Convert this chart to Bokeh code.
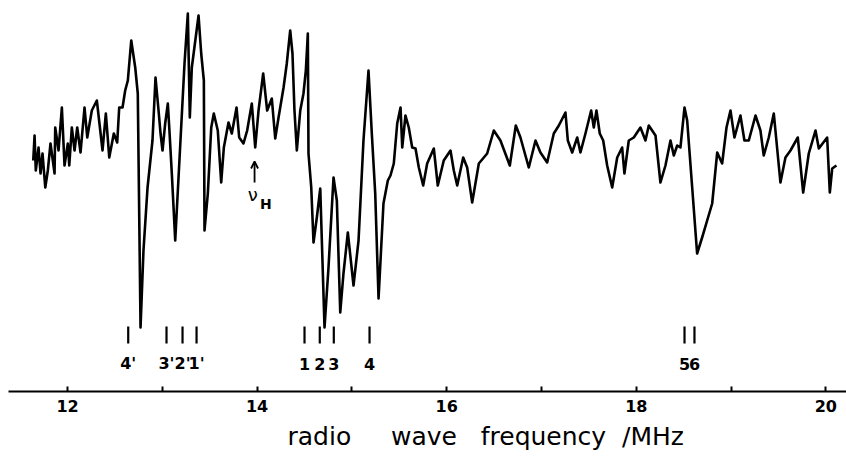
from bokeh.plotting import figure
from bokeh.models import FixedTicker, Label, Arrow, OpenHead, Range1d, ColumnDataSource, Title
from bokeh.core.properties import value
from bokeh.embed import file_html
from bokeh.resources import INLINE

# Spectrum trace (frequency in MHz, signal in arbitrary units)
freq = [11.638, 11.652, 11.665, 11.694, 11.715, 11.736, 11.765, 11.792, 11.820, 11.863,
        11.870, 11.905, 11.940, 11.968, 12.003, 12.018, 12.045, 12.074, 12.102, 12.137,
        12.179, 12.208, 12.256, 12.309, 12.369, 12.404, 12.440, 12.488, 12.524, 12.545,
        12.580, 12.608, 12.636, 12.672, 12.714, 12.741, 12.770, 12.801, 12.844, 12.896,
        12.928, 12.960, 12.981, 13.002, 13.030, 13.058, 13.073, 13.100, 13.136, 13.234,
        13.269, 13.290, 13.311, 13.382, 13.410, 13.438, 13.445, 13.480, 13.516, 13.543,
        13.585, 13.621, 13.649, 13.698, 13.733, 13.783, 13.811, 13.856, 13.895, 13.944,
        13.980, 14.015, 14.064, 14.106, 14.155, 14.191, 14.226, 14.279, 14.313, 14.349,
        14.373, 14.394, 14.419, 14.455, 14.489, 14.514, 14.535, 14.542, 14.571, 14.595,
        14.630, 14.666, 14.711, 14.753, 14.806, 14.841, 14.877, 14.911, 14.957, 15.017,
        15.070, 15.122, 15.175, 15.210, 15.246, 15.281, 15.333, 15.379, 15.407, 15.442,
        15.478, 15.513, 15.531, 15.565, 15.600, 15.636, 15.671, 15.706, 15.752, 15.794,
        15.864, 15.906, 15.969, 16.040, 16.075, 16.111, 16.174, 16.216, 16.269, 16.339,
        16.427, 16.497, 16.567, 16.666, 16.729, 16.778, 16.866, 16.937, 16.989, 17.060,
        17.130, 17.183, 17.253, 17.278, 17.324, 17.377, 17.411, 17.464, 17.524, 17.552,
        17.580, 17.615, 17.651, 17.693, 17.746, 17.799, 17.851, 17.875, 17.921, 17.974,
        18.044, 18.097, 18.132, 18.203, 18.255, 18.308, 18.361, 18.396, 18.432, 18.466,
        18.509, 18.537, 18.590, 18.642, 18.695, 18.748, 18.801, 18.854, 18.906, 18.952,
        18.994, 19.036, 19.099, 19.141, 19.187, 19.258, 19.310, 19.345, 19.398, 19.451,
        19.521, 19.574, 19.627, 19.704, 19.761, 19.820, 19.891, 19.926, 20.014, 20.042,
        20.067, 20.112]
signal = [170, 195, 160, 183, 157, 177, 143, 160, 187, 157,
          203, 180, 223, 165, 187, 165, 203, 180, 203, 178,
          223, 193, 220, 230, 180, 217, 173, 197, 188, 223,
          223, 240, 250, 290, 263, 237, 3, 80, 143, 190,
          253, 220, 197, 180, 207, 227, 203, 157, 90, 267,
          317, 213, 263, 315, 277, 250, 100, 137, 203, 217,
          200, 148, 183, 208, 197, 223, 193, 187, 200, 227,
          183, 220, 257, 220, 232, 192, 213, 243, 267, 300,
          277, 220, 180, 220, 237, 260, 297, 177, 143, 88,
          113, 142, 3, 63, 153, 130, 18, 57, 98, 45,
          90, 190, 260, 197, 137, 32, 127, 150, 155, 167,
          207, 223, 183, 215, 203, 183, 182, 163, 145, 167,
          182, 145, 170, 180, 160, 145, 173, 163, 128, 167,
          177, 200, 190, 165, 205, 193, 163, 190, 178, 168,
          197, 205, 218, 190, 178, 193, 178, 197, 220, 203,
          220, 197, 190, 165, 143, 173, 183, 157, 190, 193,
          203, 190, 205, 195, 148, 165, 190, 175, 185, 183,
          223, 210, 143, 77, 93, 110, 127, 178, 167, 203,
          220, 193, 215, 190, 190, 215, 200, 175, 193, 217,
          148, 173, 180, 193, 138, 177, 200, 182, 193, 138,
          162, 165]

# Assigned line positions (MHz) and their labels
line_freq = [12.640, 13.044, 13.213, 13.361, 14.500, 14.661, 14.809, 15.186, 18.509, 18.614]
line_labels = ["4'", "3'", "2'", "1'", "1", "2", "3", "4", "5", "6"]

# Axis ticks
tick_values = [12, 13, 14, 15, 16, 17, 18, 19, 20]
tick_labels = ["12", "", "14", "", "16", "", "18", "", "20"]

nu_h = 13.973

FONT = "DejaVu Sans"
NB = "\u00a0"
x_title = "radio" + NB * 5 + "wave" + NB * 3 + "frequency" + NB * 2 + "/MHz"

p = figure(width=846, height=463, output_backend="svg", toolbar_location=None,
           x_range=Range1d(11.377, 20.218), y_range=Range1d(-61, 330),
           min_border_left=8, min_border_right=0, min_border_top=0, min_border_bottom=72,
           y_axis_location=None)
p.outline_line_color = None
p.grid.visible = False
p.background_fill_color = "white"
p.border_fill_color = "white"

p.line(freq, signal, line_color="black", line_width=2.6, line_join="round")

# assignment markers
src = ColumnDataSource(dict(x=line_freq, y0=[-13] * len(line_freq), y1=[4] * len(line_freq),
                            ly=[-33] * len(line_freq), lab=line_labels))
p.segment(x0="x", y0="y0", x1="x", y1="y1", source=src, line_color="black", line_width=2.2)
p.text(x="x", y="ly", text="lab", source=src, text_align="center", text_baseline="middle",
       text_font=value(FONT), text_font_size="16px", text_font_style="bold", text_color="black")

# nu_H arrow and label
p.add_layout(Arrow(end=OpenHead(size=7, line_width=1.8, line_color="black"),
                   x_start=nu_h, y_start=148, x_end=nu_h, y_end=169,
                   line_color="black", line_width=1.8))
p.add_layout(Label(x=nu_h - 0.02, y=136, text="ν", text_align="center", text_baseline="middle",
                   text_font=FONT, text_font_size="18px", text_color="black"))
p.add_layout(Label(x=nu_h + 0.12, y=127, text="H", text_align="center", text_baseline="middle",
                   text_font=FONT, text_font_size="14px", text_font_style="bold", text_color="black"))

# x axis
ax = p.xaxis[0]
ax.ticker = FixedTicker(ticks=tick_values)
ax.major_label_overrides = {v: l for v, l in zip(tick_values, tick_labels)}
ax.minor_tick_line_color = None
ax.major_tick_in = 5
ax.major_tick_out = 0
ax.major_tick_line_width = 2
ax.axis_line_width = 2
ax.axis_line_color = "black"
ax.major_label_standoff = 8
ax.major_label_text_font = FONT
ax.major_label_text_font_size = "16px"
ax.major_label_text_font_style = "bold"
ax.major_label_text_color = "black"

# axis title (offset to the right as in the original)
p.add_layout(Title(text=x_title, align="left", offset=279, standoff=10,
                   text_font=FONT, text_font_size="25px", text_font_style="normal",
                   text_color="black"), "below")

open("out.html", "w").write(file_html(p, INLINE))
